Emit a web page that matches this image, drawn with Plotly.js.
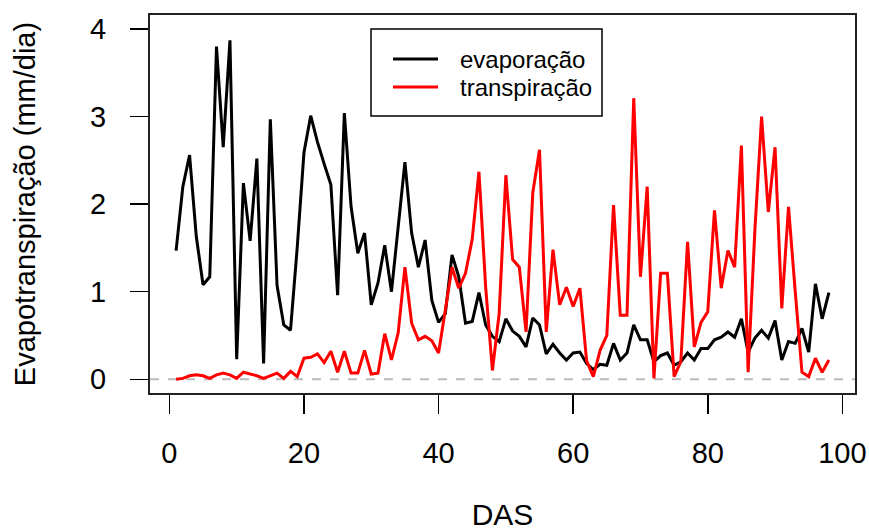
<!DOCTYPE html>
<html>
<head>
<meta charset="utf-8">
<script src="https://cdn.plot.ly/plotly-3.0.1.min.js"></script>
<style>html,body{margin:0;padding:0;background:#fff;}#chart{width:869px;height:531px;}</style>
</head>
<body>
<div id="chart"></div>
<script>
var das = [];
for (var i = 1; i <= 98; i++) das.push(i);

var evaporacao = [
  1.47, 2.20, 2.56, 1.63, 1.08, 1.17, 3.80, 2.65, 3.87, 0.23,
  2.24, 1.58, 2.52, 0.18, 2.97, 1.07, 0.62, 0.56, 1.51, 2.59,
  3.01, 2.71, 2.46, 2.22, 0.96, 3.04, 1.97, 1.44, 1.67, 0.85,
  1.10, 1.53, 1.00, 1.74, 2.48, 1.67, 1.28, 1.59, 0.90, 0.65,
  0.75, 1.42, 1.17, 0.64, 0.66, 0.99, 0.62, 0.49, 0.43, 0.69,
  0.55, 0.49, 0.37, 0.70, 0.62, 0.29, 0.40, 0.30, 0.22, 0.30,
  0.31, 0.18, 0.11, 0.17, 0.16, 0.41, 0.22, 0.30, 0.62, 0.45,
  0.45, 0.20, 0.27, 0.30, 0.16, 0.20, 0.30, 0.22, 0.35, 0.35,
  0.45, 0.48, 0.54, 0.48, 0.69, 0.31, 0.47, 0.56, 0.47, 0.67,
  0.22, 0.43, 0.41, 0.58, 0.31, 1.09, 0.69, 0.99
];

var transpiracao = [
  0.00, 0.01, 0.04, 0.05, 0.04, 0.01, 0.05, 0.07, 0.05, 0.01,
  0.08, 0.06, 0.04, 0.01, 0.04, 0.07, 0.01, 0.09, 0.03, 0.24,
  0.25, 0.29, 0.19, 0.32, 0.08, 0.32, 0.07, 0.07, 0.33, 0.06,
  0.07, 0.52, 0.22, 0.53, 1.28, 0.64, 0.45, 0.49, 0.44, 0.30,
  0.79, 1.28, 1.04, 1.21, 1.60, 2.37, 1.05, 0.10, 0.75, 2.33,
  1.37, 1.28, 0.54, 2.13, 2.62, 0.54, 1.48, 0.85, 1.05, 0.83,
  1.04, 0.21, 0.03, 0.33, 0.50, 1.99, 0.73, 0.73, 3.21, 1.17,
  2.20, 0.01, 1.21, 1.21, 0.03, 0.20, 1.57, 0.37, 0.65, 0.77,
  1.93, 1.04, 1.47, 1.28, 2.67, 0.08, 1.70, 3.00, 1.91, 2.65,
  0.81, 1.97, 1.00, 0.08, 0.03, 0.24, 0.08, 0.22
];

var xTicks = [0, 20, 40, 60, 80, 100];
var yTicks = [0, 1, 2, 3, 4];
var seriesNames = ['evaporação', 'transpiração'];
var seriesColors = ['#000000', '#ff0000'];
var referenceLevel = 0;

var FONT = '"Liberation Sans", Arial, Helvetica, sans-serif';

var traces = [
  {x: das, y: evaporacao, type: 'scatter', mode: 'lines', name: seriesNames[0],
   line: {color: seriesColors[0], width: 3}},
  {x: das, y: transpiracao, type: 'scatter', mode: 'lines', name: seriesNames[1],
   line: {color: seriesColors[1], width: 3}}
];

// legend drawn in paper coordinates (plot area: x 150..855 px, y 15..393 px)
function px2paperX(p) { return (p - 150) / 705; }
function px2paperY(p) { return (393 - p) / 378; }

var shapes = [{
  type: 'line', xref: 'paper', x0: 0, x1: 1, yref: 'y', y0: referenceLevel, y1: referenceLevel,
  line: {color: '#bbbbbb', width: 2, dash: 'dash'}, layer: 'below'
}, {
  type: 'rect', xref: 'paper', yref: 'paper',
  x0: px2paperX(371), x1: px2paperX(602), y0: px2paperY(116), y1: px2paperY(29),
  line: {color: '#000000', width: 1.5}, fillcolor: '#ffffff', layer: 'above'
}];
var annotations = [];
var rowY = [59, 87];
for (var k = 0; k < seriesNames.length; k++) {
  shapes.push({
    type: 'line', xref: 'paper', yref: 'paper',
    x0: px2paperX(393), x1: px2paperX(438), y0: px2paperY(rowY[k]), y1: px2paperY(rowY[k]),
    line: {color: seriesColors[k], width: 3}, layer: 'above'
  });
  annotations.push({
    xref: 'paper', yref: 'paper', x: px2paperX(459), y: px2paperY(rowY[k]),
    xanchor: 'left', yanchor: 'middle', showarrow: false, text: seriesNames[k],
    font: {family: FONT, size: 24, color: '#000000'}, borderpad: 0
  });
}

var layout = {
  width: 869, height: 531,
  margin: {l: 150, r: 14, t: 15, b: 138, pad: 0},
  paper_bgcolor: '#ffffff', plot_bgcolor: '#ffffff',
  font: {family: FONT, size: 24, color: '#000000'},
  showlegend: false,
  xaxis: {
    range: [-2.88, 101.88], tickvals: xTicks, ticktext: xTicks.map(String),
    ticks: 'outside', ticklen: 19, tickwidth: 1.5, tickcolor: '#000000',
    showline: true, linecolor: '#222222', linewidth: 2, mirror: true,
    showgrid: false, zeroline: false,
    tickfont: {family: FONT, size: 29, color: '#000000'},
    ticklabelstandoff: 14,
    title: {text: 'DAS', font: {family: FONT, size: 30, color: '#000000'}, standoff: 36}
  },
  yaxis: {
    range: [-0.157, 4.16], tickvals: yTicks, ticktext: yTicks.map(String),
    ticks: 'outside', ticklen: 18, tickwidth: 1.5, tickcolor: '#000000',
    showline: true, linecolor: '#222222', linewidth: 2, mirror: true,
    showgrid: false, zeroline: false,
    tickfont: {family: FONT, size: 29, color: '#000000'},
    ticklabelstandoff: 18,
    title: {text: 'Evapotranspiração (mm/dia)', font: {family: FONT, size: 29, color: '#000000'}, standoff: 46}
  },
  shapes: shapes,
  annotations: annotations
};

Plotly.newPlot('chart', traces, layout, {displayModeBar: false, staticPlot: true});
</script>
</body>
</html>
